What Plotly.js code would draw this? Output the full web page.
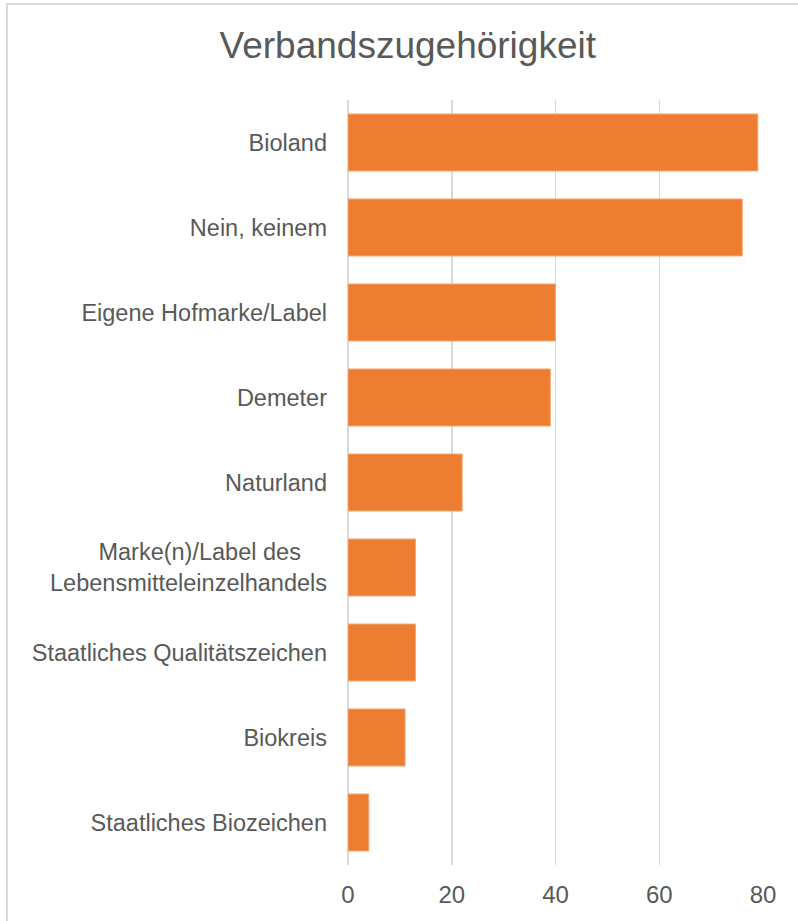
<!DOCTYPE html>
<html>
<head>
<meta charset="utf-8">
<script src="https://cdn.plot.ly/plotly-3.0.1.min.js"></script>
<style>
  html, body { margin: 0; padding: 0; overflow: hidden; background: #fff; }
  #wrap { position: relative; width: 798px; height: 921px; overflow: hidden; }
  #chart { width: 798px; height: 921px; }
  #frame { position: absolute; left: 6px; top: 3px; width: 2000px; height: 2000px;
           border: 2px solid #d9d9d9; pointer-events: none; }
</style>
</head>
<body>
<div id="wrap">
  <div id="chart"></div>
  <div id="frame"></div>
</div>
<script>
const categories = [
  "Bioland",
  "Nein, keinem",
  "Eigene Hofmarke/Label",
  "Demeter",
  "Naturland",
  "Marke(n)/Label des Lebensmitteleinzelhandels",
  "Staatliches Qualitätszeichen",
  "Biokreis",
  "Staatliches Biozeichen"
];
const tickLabels = [
  "Bioland",
  "Nein, keinem",
  "Eigene Hofmarke/Label",
  "Demeter",
  "Naturland",
  "Marke(n)/Label des\u00a0\u00a0\u00a0\u00a0<br>Lebensmitteleinzelhandels",
  "Staatliches Qualitätszeichen",
  "Biokreis",
  "Staatliches Biozeichen"
];
const values = [79, 76, 40, 39, 22, 13, 13, 11, 4];
const xTicks = [0, 20, 40, 60, 80];

const trace = {
  type: 'bar',
  orientation: 'h',
  x: values,
  y: categories,
  marker: { color: '#ED7D31', line: { color: '#F4A46E', width: 1 } },
  hoverinfo: 'x+y'
};

const layout = {
  width: 798,
  height: 921,
  paper_bgcolor: '#ffffff',
  plot_bgcolor: '#ffffff',
  margin: { l: 348, r: 35, t: 100, b: 56 },
  bargap: 0.33,
  showlegend: false,
  font: { family: 'Liberation Sans, Arial, sans-serif', color: '#595959' },
  title: {
    text: 'Verbandszugehörigkeit',
    font: { size: 37, color: '#595959', family: 'Liberation Sans, Arial, sans-serif' },
    x: 0.511, xref: 'container', xanchor: 'center',
    y: 0.951, yref: 'container', yanchor: 'middle'
  },
  xaxis: {
    range: [0, 80],
    tickvals: xTicks,
    ticktext: xTicks.map(String),
    showgrid: true,
    gridcolor: '#d9d9d9',
    gridwidth: 1.5,
    zeroline: true,
    zerolinecolor: '#d9d9d9',
    zerolinewidth: 1.5,
    showline: false,
    ticks: '',
    ticklabelstandoff: 13,
    tickfont: { size: 24, color: '#595959' },
    fixedrange: true
  },
  yaxis: {
    type: 'category',
    categoryorder: 'array',
    categoryarray: categories,
    tickvals: categories,
    ticktext: tickLabels,
    autorange: 'reversed',
    showgrid: false,
    zeroline: false,
    showline: false,
    ticks: '',
    ticklabelstandoff: 20,
    tickfont: { size: 23.5, color: '#595959' },
    fixedrange: true
  }
};

Plotly.newPlot('chart', [trace], layout, { displayModeBar: false, staticPlot: true });
</script>
</body>
</html>
